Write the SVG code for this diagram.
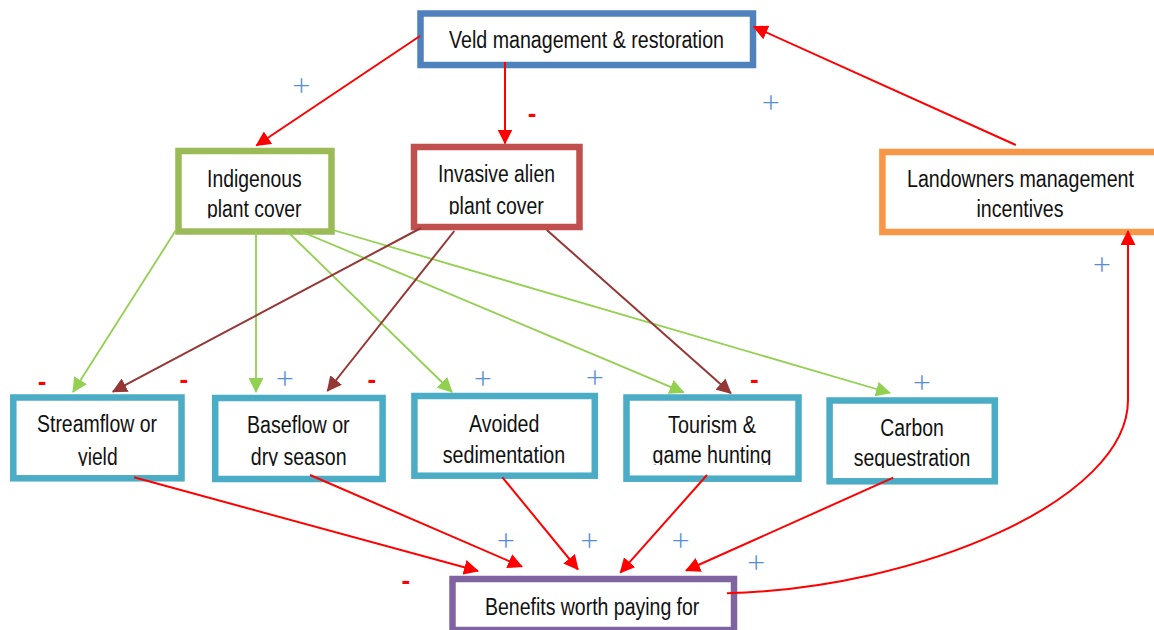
<svg xmlns="http://www.w3.org/2000/svg" width="1154" height="630" viewBox="0 0 1154 630">
<style>
.box{fill:#fff;stroke-width:6.5}
.lbl{font-family:"Liberation Sans",Arial,sans-serif;font-size:23px;fill:#111;text-anchor:middle}
.plus{font-family:"Open Sans","Liberation Sans",sans-serif;font-weight:300;font-size:32px;fill:#558ed5;text-anchor:middle}
.minus{font-family:"Liberation Sans",Arial,sans-serif;font-weight:bold;font-size:26px;fill:#ff0000;text-anchor:middle}
.r{stroke:#ff0000;stroke-width:2;fill:none;marker-end:url(#ar)}
.g{stroke:#92d050;stroke-width:1.8;fill:none;marker-end:url(#ag)}
.b{stroke:#953735;stroke-width:2;fill:none;marker-end:url(#ab)}
</style>
<defs>
<marker id="ar" markerUnits="userSpaceOnUse" viewBox="0 0 15 15" markerWidth="15" markerHeight="15" refX="14" refY="7.5" orient="auto"><path d="M0,0 L15,7.5 L0,15 z" fill="#ff0000"/></marker>
<marker id="ag" markerUnits="userSpaceOnUse" viewBox="0 0 15 15" markerWidth="15" markerHeight="15" refX="14" refY="7.5" orient="auto"><path d="M0,0 L15,7.5 L0,15 z" fill="#92d050"/></marker>
<marker id="ab" markerUnits="userSpaceOnUse" viewBox="0 0 15 15" markerWidth="15" markerHeight="15" refX="14" refY="7.5" orient="auto"><path d="M0,0 L15,7.5 L0,15 z" fill="#953735"/></marker>
<clipPath id="c1"><rect x="180" y="150" width="150" height="68.3"/></clipPath>
<clipPath id="c2"><rect x="416" y="150" width="162" height="64.5"/></clipPath>
<clipPath id="c3"><rect x="15" y="400" width="165" height="66"/></clipPath>
<clipPath id="c4"><rect x="217" y="400" width="164" height="66"/></clipPath>
<clipPath id="c5"><rect x="628" y="400" width="169" height="65"/></clipPath>
<clipPath id="c6"><rect x="831" y="403" width="162" height="65"/></clipPath>
</defs>
<rect width="1154" height="630" fill="#fff"/>

<g id="veld">
<rect class="box" x="420.5" y="13.5" width="332.5" height="51.5" stroke="#4f81bd"/>
<text class="lbl" x="586.5" y="48" textLength="275" lengthAdjust="spacingAndGlyphs">Veld management &amp; restoration</text>
</g>
<g id="indigenous">
<rect class="box" x="178.5" y="151" width="153" height="80.5" stroke="#9bbb59"/>
<text class="lbl" x="254.3" y="187" textLength="94.5" lengthAdjust="spacingAndGlyphs">Indigenous</text>
<text class="lbl" x="254.3" y="217.4" textLength="94.5" lengthAdjust="spacingAndGlyphs" clip-path="url(#c1)">plant cover</text>
</g>
<g id="invasive">
<rect class="box" x="414" y="147" width="165.5" height="80" stroke="#c0504d"/>
<text class="lbl" x="496.4" y="181.7" textLength="117" lengthAdjust="spacingAndGlyphs">Invasive alien</text>
<text class="lbl" x="496.3" y="214" textLength="95" lengthAdjust="spacingAndGlyphs" clip-path="url(#c2)">plant cover</text>
</g>
<g id="landowners">
<rect class="box" x="882.4" y="152" width="300" height="80" stroke="#f79646"/>
<text class="lbl" x="1020.5" y="186.7" textLength="227" lengthAdjust="spacingAndGlyphs">Landowners management</text>
<text class="lbl" x="1020" y="216.7" textLength="87" lengthAdjust="spacingAndGlyphs">incentives</text>
</g>
<g id="streamflow">
<rect class="box" x="13.3" y="397.5" width="168.2" height="80.8" stroke="#4bacc6"/>
<text class="lbl" x="97" y="432.3" textLength="120" lengthAdjust="spacingAndGlyphs">Streamflow or</text>
<text class="lbl" x="97.8" y="465" textLength="39.6" lengthAdjust="spacingAndGlyphs" clip-path="url(#c3)">yield</text>
</g>
<g id="baseflow">
<rect class="box" x="215.2" y="398" width="167.4" height="81" stroke="#4bacc6"/>
<text class="lbl" x="298.3" y="433" textLength="102.6" lengthAdjust="spacingAndGlyphs">Baseflow or</text>
<text class="lbl" x="298.7" y="465.3" textLength="95.8" lengthAdjust="spacingAndGlyphs" clip-path="url(#c4)">dry season</text>
</g>
<g id="avoided">
<rect class="box" x="414.4" y="396" width="180.4" height="79.7" stroke="#4bacc6"/>
<text class="lbl" x="504.2" y="431.7" textLength="70.4" lengthAdjust="spacingAndGlyphs">Avoided</text>
<text class="lbl" x="504" y="462.7" textLength="122.5" lengthAdjust="spacingAndGlyphs">sedimentation</text>
</g>
<g id="tourism">
<rect class="box" x="626.5" y="397.5" width="172" height="81.2" stroke="#4bacc6"/>
<text class="lbl" x="712" y="432.7" textLength="88" lengthAdjust="spacingAndGlyphs">Tourism &amp;</text>
<text class="lbl" x="712" y="463.3" textLength="118.8" lengthAdjust="spacingAndGlyphs" clip-path="url(#c5)">game hunting</text>
</g>
<g id="carbon">
<rect class="box" x="829.6" y="400.5" width="165.2" height="80.8" stroke="#4bacc6"/>
<text class="lbl" x="912" y="436" textLength="63.6" lengthAdjust="spacingAndGlyphs">Carbon</text>
<text class="lbl" x="912" y="465.5" textLength="116.6" lengthAdjust="spacingAndGlyphs" clip-path="url(#c6)">sequestration</text>
</g>
<g id="benefits">
<rect class="box" x="452.5" y="579" width="281.5" height="51" stroke="#8064a2"/>
<text class="lbl" x="592.2" y="615" textLength="214.3" lengthAdjust="spacingAndGlyphs">Benefits worth paying for</text>
</g>

<g id="connectors">
<path class="r" d="M420,36 L256.4,145.5"/>
<path class="r" d="M505,62 L505,143.5"/>
<path class="r" d="M1015.8,145 L753.6,26.7"/>
<path class="r" d="M727,593.3 C920,588 1128,500 1128,400 L1128,231"/>
<path class="g" d="M176,230 L73,392"/>
<path class="g" d="M256,231 L256,392"/>
<path class="g" d="M287,231 L452,392"/>
<path class="g" d="M300,231 L683.6,392.3"/>
<path class="g" d="M333,230 L890,393"/>
<path class="b" d="M421,228 L112.8,391.7"/>
<path class="b" d="M454.3,231 L327.4,391"/>
<path class="b" d="M546.8,230 L730.9,393.3"/>
<path class="r" d="M134,477.3 L478,571"/>
<path class="r" d="M310,475 L522,566.7"/>
<path class="r" d="M502.4,477.3 L578,569.5"/>
<path class="r" d="M707,475 L620.3,572.7"/>
<path class="r" d="M893.3,477.7 L686,570.5"/>
</g>

<g id="signs">
<text class="plus" x="301.5" y="97">+</text>
<text class="plus" x="771" y="113.5">+</text>
<text class="plus" x="1101.8" y="276">+</text>
<text class="plus" x="284.9" y="390">+</text>
<text class="plus" x="482.8" y="390">+</text>
<text class="plus" x="595" y="388.5">+</text>
<text class="plus" x="922" y="393.5">+</text>
<text class="plus" x="506" y="552">+</text>
<text class="plus" x="589.4" y="552">+</text>
<text class="plus" x="680.6" y="552">+</text>
<text class="plus" x="756.2" y="573.5">+</text>
<text class="minus" x="532" y="121.5">-</text>
<text class="minus" x="42" y="390">-</text>
<text class="minus" x="183.9" y="388">-</text>
<text class="minus" x="371.8" y="387.5">-</text>
<text class="minus" x="754.4" y="387.5">-</text>
<text class="minus" x="405.8" y="589">-</text>
</g>
</svg>
